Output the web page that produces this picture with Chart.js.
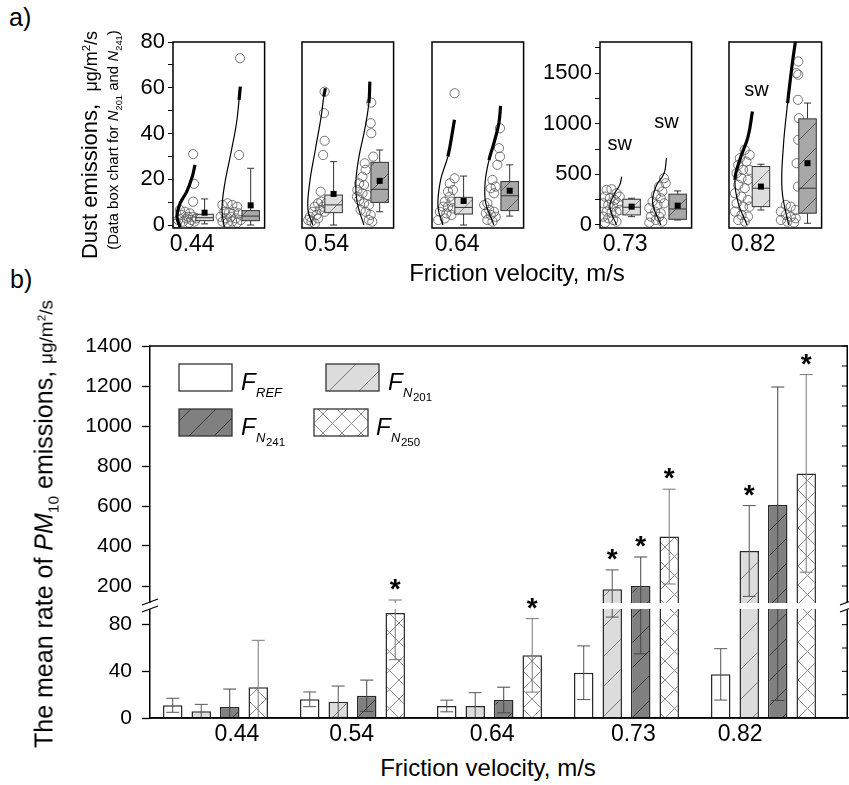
<!DOCTYPE html>
<html>
<head>
<meta charset="utf-8">
<script src="https://cdn.jsdelivr.net/npm/chart.js@4.4.0/dist/chart.umd.min.js"></script>
<style>
  body { margin: 0; background: #fff; font-family: "Liberation Sans", Arial, sans-serif; color: #000; }
  #wrap { position: relative; width: 849px; height: 785px; overflow: hidden; }
  canvas { position: absolute; }
  .t { position: absolute; white-space: nowrap; line-height: 1; }
  .rot { position: absolute; white-space: nowrap; transform: translate(-50%, -50%) rotate(-90deg); line-height: 1; }
  .ctr { position: absolute; white-space: nowrap; transform: translate(-50%, -50%); line-height: 1; }
  sub, sup { font-size: 62%; line-height: 0; }
</style>
</head>
<body>
<div id="wrap">
  <canvas id="s0"></canvas>
  <canvas id="s1"></canvas>
  <canvas id="s2"></canvas>
  <canvas id="s3"></canvas>
  <canvas id="s4"></canvas>
  <canvas id="pb"></canvas>

  <div class="t" style="left:9px;top:5px;font-size:25px">a)</div>
  <div class="t" style="left:10px;top:267px;font-size:25px">b)</div>
  <div class="rot" style="left:90px;top:145px;font-size:22px">Dust emissions,&nbsp; <span style="font-size:18px">μg/m<sup>2</sup>/s</span></div>
  <div class="rot" style="left:112px;top:140px;font-size:15px">(Data box chart for <i>N</i><sub>201</sub> and <i>N</i><sub>241</sub>)</div>
  <div class="ctr" style="left:517px;top:273px;font-size:24px">Friction velocity, m/s</div>
  <div class="rot" style="left:44px;top:524px;font-size:25px">The mean rate of <i>PM</i><sub>10</sub> emissions,&nbsp;<span style="font-size:19px">μg/m<sup>2</sup>/s</span></div>
  <div class="ctr" style="left:488px;top:768px;font-size:24px">Friction velocity, m/s</div>
</div>

<script>
// ---------------- panel b: mean emission rates ----------------
const velocities = ['0.44', '0.54', '0.64', '0.73', '0.82'];
const meanREF  = [10.9, 16.0, 10.3, 38.8, 37.4];
const sdREF    = [6.0, 6.3, 5.0, 23.0, 22.0];
const meanN201 = [5.7, 14.0, 10.3, 183.5, 375];
const sdN201   = [6.0, 13.4, 11.4, 97, 227];
const meanN241 = [9.4, 19.1, 15.4, 200, 605];
const sdN241   = [15.4, 13.4, 11.0, 145, 590];
const meanN250 = [26.3, 90.0, 53.7, 447, 763];
const sdN250   = [40.3, 40.0, 31.5, 237, 494];
// significance asterisks
const starREF  = [0, 0, 0, 0, 0];
const starN201 = [0, 0, 0, 1, 1];
const starN241 = [0, 0, 0, 1, 0];
const starN250 = [0, 1, 1, 1, 1];
const upperTicks = [200, 400, 600, 800, 1000, 1200, 1400];
const lowerTicks = [0, 40, 80];

// ---------------- panel a: data box charts ----------------
const subLabels = ['0.44', '0.54', '0.64', '0.73', '0.82'];
const smallTicks = [0, 10, 20, 30, 40, 50, 60, 70, 80];
const bigTicks = [0, 250, 500, 750, 1000, 1250, 1500, 1750];
// points: [x position inside the frame (0..1), emission]
const pts044a = [[0.22,31],[0.23,18],[0.22,10.2],[0.057,2.2],[0.093,4.4],[0.13,5.8],[0.165,3.6],[0.2,2.2],[0.11,1.5],[0.147,2.9],[0.183,5.1],[0.218,3.6],[0.236,1.5],[0.075,6.6],[0.255,2.9],[0.04,0.7],[0.175,1.0]];
const pts044b = [[0.732,72.9],[0.721,30.6],[0.54,8.75],[0.595,9.5],[0.648,8.75],[0.70,8.0],[0.56,5.8],[0.613,5.4],[0.667,5.8],[0.72,5.1],[0.52,3.6],[0.577,2.9],[0.63,3.6],[0.685,2.9],[0.74,2.2],[0.54,1.5],[0.595,1.0],[0.648,1.5],[0.70,1.0]];
const pts054a = [[0.247,58.3],[0.24,48.9],[0.247,36.8],[0.23,30.6],[0.204,14.6],[0.086,3.6],[0.068,2.2],[0.12,5.8],[0.14,8.0],[0.175,9.5],[0.21,10.2],[0.194,6.6],[0.158,4.4],[0.23,8.0],[0.247,5.8],[0.104,1.5],[0.175,2.9],[0.265,9.5],[0.14,0.7]];
const pts054b = [[0.756,53.5],[0.75,44.5],[0.756,40.1],[0.778,29.9],[0.685,27],[0.695,24.1],[0.66,21.1],[0.624,18.2],[0.677,17.5],[0.605,15.3],[0.66,13.9],[0.713,13.1],[0.624,10.9],[0.677,9.5],[0.73,8.75],[0.64,6.6],[0.695,5.8],[0.75,4.4],[0.73,2.2],[0.6,12.4],[0.767,1.5]];
const pts064a = [[0.247,57.6],[0.247,20.4],[0.194,18.2],[0.229,15.3],[0.175,14.6],[0.194,12.4],[0.14,10.2],[0.212,10.2],[0.122,8.0],[0.175,8.0],[0.229,7.3],[0.086,5.8],[0.158,5.1],[0.212,4.4],[0.068,2.2],[0.14,2.9]];
const pts064b = [[0.742,42.3],[0.731,33.6],[0.742,29.9],[0.713,26.3],[0.66,19.7],[0.695,16.8],[0.642,16.1],[0.677,13.9],[0.605,9.5],[0.57,8.75],[0.624,6.6],[0.677,5.8],[0.588,5.1],[0.642,4.4],[0.695,3.6],[0.605,2.2],[0.66,1.5]];
const pts073a = [[0.072,346],[0.125,353],[0.18,313],[0.054,280],[0.108,264],[0.161,247],[0.215,280],[0.036,214],[0.09,198],[0.143,181],[0.197,214],[0.072,132],[0.125,122],[0.18,132],[0.036,82],[0.09,66],[0.143,49],[0.054,23],[0.18,33],[0.215,148]];
const pts073b = [[0.70,462],[0.717,412],[0.645,379],[0.68,330],[0.61,297],[0.663,264],[0.573,231],[0.627,198],[0.70,214],[0.538,165],[0.602,132],[0.663,115],[0.556,82],[0.61,49],[0.68,33],[0.538,23],[0.645,82]];
const pts082a = [[0.17,742],[0.223,692],[0.117,659],[0.188,626],[0.1,593],[0.152,544],[0.223,544],[0.082,511],[0.135,462],[0.205,445],[0.1,396],[0.17,363],[0.064,313],[0.135,280],[0.205,247],[0.082,214],[0.152,181],[0.223,181],[0.064,132],[0.135,99],[0.205,82],[0.1,49],[0.17,33]];
const pts082b = [[0.748,1615],[0.727,1500],[0.748,1484],[0.745,1236],[0.755,1055],[0.748,841],[0.73,610],[0.745,379],[0.614,198],[0.667,181],[0.72,148],[0.56,132],[0.614,99],[0.667,82],[0.72,66],[0.56,49],[0.63,33],[0.702,23]];
// fitted distribution curves: [x inside frame, emission]
const curve044a = [[0.078,-1],[0.043,3.6],[0.078,9.5],[0.15,14.6],[0.21,21.1],[0.24,26.3]];
const curve044b = [[0.56,-1],[0.535,6.6],[0.56,16.8],[0.632,31.4],[0.693,44.5],[0.721,54.7],[0.735,60.5]];
const curve054a = [[0.119,0],[0.065,6.6],[0.083,18.2],[0.145,32.8],[0.209,47.4],[0.238,56.2],[0.256,59.8]];
const curve054b = [[0.676,0],[0.604,9.5],[0.587,18.2],[0.622,29.9],[0.684,41.6],[0.73,53.3],[0.741,62.7]];
const curve064a = [[0.119,0],[0.065,8],[0.094,19.7],[0.173,29.9],[0.227,41.6],[0.245,46]];
const curve064b = [[0.676,0],[0.587,9.5],[0.579,18.2],[0.622,28.4],[0.676,35.8],[0.73,44.5],[0.749,52.1]];
const curve073a = [[0.18,0],[0.108,181],[0.162,313],[0.216,396],[0.237,478]];
const curve073b = [[0.665,0],[0.575,215],[0.611,379],[0.70,511],[0.726,660]];
const curve082a = [[0.195,0],[0.1,215],[0.064,445],[0.117,643],[0.206,873],[0.253,1121]];
const curve082b = [[0.644,0],[0.573,346],[0.587,775],[0.633,1204],[0.68,1566],[0.715,1797],[0.725,1850]];
// box stats: [low whisker, q1, median, q3, high whisker, mean]
const box044a = [0.5, 1.9, 3.2, 4.7, 11.4, 5.4];
const box044b = [0, 1.9, 3.9, 6.3, 24.8, 8.6];
const box054a = [0, 5.4, 8.8, 13.1, 27.7, 13.6];
const box054b = [5.8, 9.9, 15.6, 27.4, 32.8, 19.3];
const box064a = [0, 4.8, 7.7, 12.1, 21.4, 10.5];
const box064b = [3.9, 6.3, 12.8, 19, 26.3, 15];
const box073a = [82, 99, 175, 254, 264, 181];
const box073b = [49, 56, 158, 304, 336, 191];
const box082a = [148, 181, 363, 577, 600, 379];
const box082b = [17, 116, 363, 1048, 1204, 610];

Chart.defaults.font.family = '"Liberation Sans", Arial, sans-serif';
Chart.defaults.color = '#000';

// hatch patterns
function hatch(bg, line, step, cross) {
  const c = document.createElement('canvas');
  c.width = c.height = step;
  const g = c.getContext('2d');
  g.fillStyle = bg;
  g.fillRect(0, 0, step, step);
  g.strokeStyle = line;
  g.lineWidth = 1;
  g.beginPath();
  g.moveTo(0, step); g.lineTo(step, 0);
  g.moveTo(-2, 2); g.lineTo(2, -2);
  g.moveTo(step - 2, step + 2); g.lineTo(step + 2, step - 2);
  if (cross) {
    g.moveTo(0, 0); g.lineTo(step, step);
    g.moveTo(step - 2, -2); g.lineTo(step + 2, 2);
    g.moveTo(-2, step - 2); g.lineTo(2, step + 2);
  }
  g.stroke();
  return g.createPattern(c, 'repeat');
}
const fillREF = '#ffffff';
const fillN201 = hatch('#dcdcdc', '#7a7a7a', 30, false);
const fillN241 = hatch('#808080', '#3a3a3a', 25, false);
const fillN250 = hatch('#ffffff', '#8a8a8a', 19, true);
const boxFillA = hatch('#dedede', '#8a8a8a', 30, false);
const boxFillB = hatch('#a8a8a8', '#5a5a5a', 25, false);

// ---------------- panel a charts ----------------
const frameLeft = [173, 302, 432, 600, 729];
const frameRight = [266, 395, 525, 693, 823];
const labelPos = [0.21, 0.27, 0.275, 0.275, 0.26];
const boxX = [0.345, 0.848];

const subs = [
  { pa: pts044a, pb: pts044b, ca: curve044a, cb: curve044b, boldA: 0, boldB: 5, ba: box044a, bb: box044b, big: false, axis: true, sw: [] },
  { pa: pts054a, pb: pts054b, ca: curve054a, cb: curve054b, boldA: 5, boldB: 5, ba: box054a, bb: box054b, big: false, axis: false, sw: [] },
  { pa: pts064a, pb: pts064b, ca: curve064a, cb: curve064b, boldA: 3, boldB: 3, ba: box064a, bb: box064b, big: false, axis: false, sw: [] },
  { pa: pts073a, pb: pts073b, ca: curve073a, cb: curve073b, boldA: 99, boldB: 99, ba: box073a, bb: box073b, big: true, axis: true, sw: [[0.215, 791], [0.726, 1014]] },
  { pa: pts082a, pb: pts082b, ca: curve082a, cb: curve082b, boldA: 2, boldB: 3, ba: box082a, bb: box082b, big: true, axis: false, sw: [[0.297, 1325]] }
];

const toXY = arr => arr.map(p => ({ x: p[0], y: p[1] }));

function drawBox(ctx, xs, ys, cx, st, fill) {
  const [lo, q1, med, q3, hi, mean] = st;
  const x = xs.getPixelForValue(cx), w = 17.5, cap = 7;
  const y = v => ys.getPixelForValue(v);
  ctx.strokeStyle = '#333';
  ctx.lineWidth = 1;
  ctx.beginPath();
  ctx.moveTo(x, y(q3)); ctx.lineTo(x, y(hi));
  ctx.moveTo(x - cap / 2, y(hi)); ctx.lineTo(x + cap / 2, y(hi));
  ctx.moveTo(x, y(q1)); ctx.lineTo(x, y(lo));
  ctx.moveTo(x - cap / 2, y(lo)); ctx.lineTo(x + cap / 2, y(lo));
  ctx.stroke();
  ctx.fillStyle = fill;
  ctx.fillRect(x - w / 2, y(q3), w, y(q1) - y(q3));
  ctx.strokeRect(x - w / 2, y(q3), w, y(q1) - y(q3));
  ctx.beginPath();
  ctx.moveTo(x - w / 2, y(med)); ctx.lineTo(x + w / 2, y(med));
  ctx.stroke();
  ctx.fillStyle = '#000';
  ctx.fillRect(x - 3, y(mean) - 3, 6, 6);
}

subs.forEach((sub, k) => {
  const cv = document.getElementById('s' + k);
  const fw = frameRight[k] - frameLeft[k];
  cv.width = fw + 94;
  cv.height = 262;
  cv.style.left = (frameLeft[k] - 90) + 'px';
  cv.style.top = '0px';
  const ticks = sub.big ? bigTicks : smallTicks;
  const major = sub.big ? 500 : 20;
  const curveDs = (pts, bold) => ({
    type: 'line', data: toXY(pts), borderColor: '#000', borderWidth: 1.2, pointRadius: 0,
    tension: 0.4, fill: false,
    segment: { borderWidth: c => c.p0DataIndex >= bold ? 3.2 : 1.2 }
  });
  const ptDs = pts => ({
    data: toXY(pts), pointRadius: 4.6, pointStyle: 'circle', borderColor: '#555',
    borderWidth: 0.8, backgroundColor: 'rgba(0,0,0,0)'
  });
  new Chart(cv, {
    type: 'scatter',
    data: { datasets: [curveDs(sub.ca, sub.boldA), curveDs(sub.cb, sub.boldB), ptDs(sub.pa), ptDs(sub.pb)] },
    options: {
      responsive: false, animation: false, events: [], devicePixelRatio: 1,
      layout: { padding: { top: 42, right: 4, bottom: 0, left: sub.axis ? 0 : 90 } },
      plugins: { legend: { display: false }, tooltip: { enabled: false } },
      scales: {
        x: {
          type: 'linear', min: 0, max: 1, offset: false,
          afterBuildTicks: s => { s.ticks = [{ value: labelPos[k] }]; },
          ticks: { callback: () => subLabels[k], font: { size: 23 }, color: '#000', padding: 3, maxRotation: 0, autoSkip: false },
          grid: { display: false, drawTicks: false }, border: { display: false },
          afterFit: s => { s.height = 34; }
        },
        y: {
          type: 'linear', display: sub.axis,
          min: sub.big ? -30 : -1.3, max: sub.big ? 1807 : 80,
          afterBuildTicks: s => { s.ticks = ticks.map(v => ({ value: v })); },
          ticks: { callback: v => (v % major === 0 ? String(v) : ''), font: { size: 22 }, color: '#000', padding: 3, autoSkip: false },
          grid: { drawOnChartArea: false, tickLength: 5, color: '#000' },
          border: { display: false },
          afterFit: s => { s.width = sub.axis ? 90 : 0; }
        }
      }
    },
    plugins: [{
      id: 'boxes' + k,
      afterDatasetsDraw(chart) {
        const { ctx, chartArea: ca, scales } = chart;
        ctx.save();
        drawBox(ctx, scales.x, scales.y, boxX[0], sub.ba, boxFillA);
        drawBox(ctx, scales.x, scales.y, boxX[1], sub.bb, boxFillB);
        ctx.fillStyle = '#000';
        ctx.font = '20px "Liberation Sans", Arial, sans-serif';
        ctx.textAlign = 'center';
        ctx.textBaseline = 'middle';
        sub.sw.forEach(p => ctx.fillText('sw', scales.x.getPixelForValue(p[0]), scales.y.getPixelForValue(p[1])));
        ctx.strokeStyle = '#000';
        ctx.lineWidth = 1.5;
        ctx.strokeRect(ca.left, ca.top, ca.right - ca.left, ca.bottom - ca.top);
        ctx.restore();
      }
    }]
  });
});

// ---------------- panel b chart ----------------
const lowMax = 96, upMin = 100, upMax = 1400;
const xLabelPos = [0.157, 0.994, 2.02, 3.05, 3.83];
const bSeries = [
  { name: 'REF', mean: meanREF, sd: sdREF, star: starREF, fill: fillREF, err: '#555' },
  { name: 'N201', mean: meanN201, sd: sdN201, star: starN201, fill: fillN201, err: '#555' },
  { name: 'N241', mean: meanN241, sd: sdN241, star: starN241, fill: fillN241, err: '#444' },
  { name: 'N250', mean: meanN250, sd: sdN250, star: starN250, fill: fillN250, err: '#777' }
];
const barStyle = { borderColor: '#2a2a2a', borderWidth: 1.5, categoryPercentage: 0.832, barPercentage: 0.684 };
const bDatasets = [];
bSeries.forEach(s => bDatasets.push(Object.assign({
  label: s.name, stack: s.name, yAxisID: 'yLow', backgroundColor: s.fill,
  data: s.mean.map((m, i) => ({ x: i, y: Math.min(m, lowMax) }))
}, barStyle)));
bSeries.forEach(s => bDatasets.push(Object.assign({
  label: s.name + ' upper', stack: s.name, yAxisID: 'yUp', backgroundColor: s.fill,
  data: s.mean.map((m, i) => ({ x: i, y: m > upMin ? [upMin, m] : null }))
}, barStyle)));

const pb = document.getElementById('pb');
pb.width = 849; pb.height = 450;
pb.style.left = '0px'; pb.style.top = '300px';
const xMin = -0.478, xMax = 4.617;

const panelBExtras = {
  id: 'panelBExtras',
  afterDatasetsDraw(chart) {
    const { ctx, chartArea: ca, scales } = chart;
    const yUp = scales.yUp, yLow = scales.yLow;
    const pix = v => (v >= upMin ? yUp.getPixelForValue(Math.min(v, upMax))
      : (v <= lowMax ? yLow.getPixelForValue(Math.max(v, 0)) : yUp.bottom));
    ctx.save();
    // error bars
    bSeries.forEach((s, si) => {
      const meta = chart.getDatasetMeta(si);
      s.mean.forEach((m, i) => {
        const x = meta.data[i].x;
        const hi = m + s.sd[i], lo = m - s.sd[i];
        const yh = pix(hi), yl = pix(Math.max(lo, 0));
        ctx.strokeStyle = s.err;
        ctx.lineWidth = 1;
        ctx.beginPath();
        ctx.moveTo(x, yl); ctx.lineTo(x, yh);
        ctx.moveTo(x - 6.5, yh); ctx.lineTo(x + 6.5, yh);
        if (lo > 0) { ctx.moveTo(x - 6.5, yl); ctx.lineTo(x + 6.5, yl); }
        ctx.stroke();
      });
    });
    // axis break
    const b = yUp.bottom;
    ctx.fillStyle = '#fff';
    ctx.fillRect(ca.left - 12, b - 3, ca.right - ca.left + 14, 6);
    ctx.strokeStyle = '#000';
    ctx.lineWidth = 1.3;
    ctx.beginPath();
    [ca.left, ca.right].forEach(x => {
      ctx.moveTo(x - 8, b - 1); ctx.lineTo(x + 8, b - 7);
      ctx.moveTo(x - 8, b + 6); ctx.lineTo(x + 8, b);
    });
    ctx.stroke();
    // asterisks
    ctx.fillStyle = '#000';
    ctx.font = 'bold 28px "Liberation Sans", Arial, sans-serif';
    ctx.textAlign = 'center';
    ctx.textBaseline = 'alphabetic';
    bSeries.forEach((s, si) => {
      const meta = chart.getDatasetMeta(si);
      s.mean.forEach((m, i) => {
        if (s.star[i]) ctx.fillText('*', meta.data[i].x, pix(m + s.sd[i]) - 2);
      });
    });
    ctx.restore();
  },
  afterDraw(chart) {
    const { ctx, chartArea: ca, scales } = chart;
    const yUp = scales.yUp, yLow = scales.yLow, b = yUp.bottom;
    ctx.save();
    ctx.strokeStyle = '#000';
    ctx.lineWidth = 1.5;
    ctx.beginPath();
    ctx.moveTo(ca.left - 0.75, ca.top); ctx.lineTo(ca.right, ca.top);
    ctx.moveTo(ca.right - 0.75, ca.top); ctx.lineTo(ca.right - 0.75, b - 4);
    ctx.moveTo(ca.right - 0.75, b + 4); ctx.lineTo(ca.right - 0.75, ca.bottom);
    ctx.moveTo(ca.left - 0.75, ca.bottom); ctx.lineTo(ca.right, ca.bottom);
    ctx.stroke();
    // inward ticks on the right axis
    ctx.lineWidth = 1;
    ctx.beginPath();
    for (let v = 200; v <= upMax; v += 100) {
      const y = yUp.getPixelForValue(v);
      ctx.moveTo(ca.right - 6, y); ctx.lineTo(ca.right, y);
    }
    for (let v = 20; v <= 80; v += 20) {
      const y = yLow.getPixelForValue(v);
      ctx.moveTo(ca.right - 6, y); ctx.lineTo(ca.right, y);
    }
    ctx.stroke();
    // legend
    const items = [
      { fill: fillREF, bx: 29, by: 18, bw: 53, tx: 91, main: 'REF', sub: '' },
      { fill: fillN201, bx: 176, by: 18, bw: 53, tx: 238, main: 'N', sub: '201' },
      { fill: fillN241, bx: 29, by: 63, bw: 53, tx: 91, main: 'N', sub: '241' },
      { fill: fillN250, bx: 164, by: 63, bw: 54, tx: 226, main: 'N', sub: '250' }
    ];
    items.forEach(it => {
      const x0 = ca.left + it.bx, y0 = ca.top + it.by;
      ctx.fillStyle = it.fill;
      ctx.fillRect(x0, y0, it.bw, 27);
      ctx.strokeStyle = '#333';
      ctx.lineWidth = 1.3;
      ctx.strokeRect(x0, y0, it.bw, 27);
      ctx.fillStyle = '#000';
      ctx.textAlign = 'left';
      ctx.textBaseline = 'alphabetic';
      const tx = ca.left + it.tx, base = y0 + 26;
      ctx.font = 'italic 24px "Liberation Sans", Arial, sans-serif';
      ctx.fillText('F', tx, base);
      ctx.font = 'italic 13px "Liberation Sans", Arial, sans-serif';
      ctx.fillText(it.main, tx + 15, base + 7);
      if (it.sub) {
        const w = ctx.measureText(it.main).width;
        ctx.font = '11.5px "Liberation Sans", Arial, sans-serif';
        ctx.fillText(it.sub, tx + 15 + w + 0.5, base + 11);
      }
    });
    ctx.restore();
  }
};

new Chart(pb, {
  type: 'bar',
  data: { datasets: bDatasets },
  options: {
    responsive: false, animation: false, events: [], devicePixelRatio: 1,
    layout: { padding: { top: 46, right: 1, bottom: 0, left: 0 } },
    plugins: { legend: { display: false }, tooltip: { enabled: false } },
    scales: {
      x: {
        type: 'linear', min: xMin, max: xMax, offset: false,
        afterBuildTicks: s => { s.ticks = velocities.map((v, i) => ({ value: i })); },
        ticks: { display: false },
        grid: { display: false, drawTicks: false, offset: false },
        border: { display: true, color: '#000', width: 1.5 },
        afterFit: s => { s.height = 0; }
      },
      xl: {
        type: 'linear', position: 'bottom', weight: 1, min: xMin, max: xMax, offset: false,
        afterBuildTicks: s => { s.ticks = xLabelPos.map(v => ({ value: v })); },
        ticks: { callback: (v, i) => velocities[i], font: { size: 23 }, color: '#000', padding: 3, maxRotation: 0, autoSkip: false },
        grid: { display: false, drawTicks: false, offset: false },
        border: { display: false },
        afterFit: s => { s.height = 32; }
      },
      yUp: {
        type: 'linear', position: 'left', stack: 'left', stackWeight: 260, weight: 1,
        stacked: false, min: upMin, max: upMax,
        afterBuildTicks: s => { s.ticks = upperTicks.map(v => ({ value: v })); },
        ticks: { callback: v => String(v), font: { size: 21 }, color: '#000', padding: 10, autoSkip: false },
        grid: { drawOnChartArea: false, tickLength: 8, color: '#000', tickWidth: 1.3 },
        border: { color: '#000', width: 1.5 },
        afterFit: s => { s.width = 150; }
      },
      yLow: {
        type: 'linear', position: 'left', stack: 'left', stackWeight: 112, weight: 0,
        stacked: false, min: 0, max: lowMax,
        afterBuildTicks: s => { s.ticks = lowerTicks.map(v => ({ value: v })); },
        ticks: { callback: v => String(v), font: { size: 21 }, color: '#000', padding: 10, autoSkip: false },
        grid: { drawOnChartArea: false, tickLength: 8, color: '#000', tickWidth: 1.3 },
        border: { color: '#000', width: 1.5 },
        afterFit: s => { s.width = 150; }
      }
    }
  },
  plugins: [panelBExtras]
});
</script>
</body>
</html>
